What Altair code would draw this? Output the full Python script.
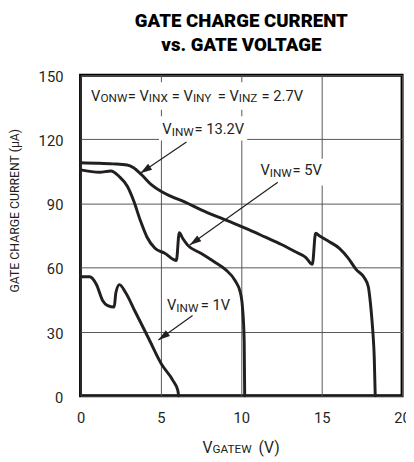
import math
import altair as alt
import pandas as pd

# ---------------- data ----------------
# V_INW = 13.2V
v13_x = [0, 1.0, 2.0, 2.9, 3.3, 3.8, 4.4, 5.0, 5.6, 6.5, 7.5, 8.5, 9.5, 10.5, 11.5,
         12.5, 13.3, 14.0, 14.42, 14.62, 14.9, 15.5, 16.1, 16.65, 17.15, 17.65, 17.9,
         18.0, 18.12, 18.2, 18.27, 18.33]
v13_y = [109, 108.8, 108.5, 108, 106.7, 103.4, 98.8, 95.7, 93.4, 90.6, 87, 83.8, 80.8,
         77.6, 74.2, 70.8, 67.6, 64.8, 61.5, 76, 74.6, 72, 69, 64.4, 59, 55.2, 51, 45.5,
         36, 28, 17.8, 0]
# V_INW = 5V
v5_x = [0, 1.18, 1.89, 2.4, 2.91, 3.31, 3.72, 4.13, 4.63, 5.24, 5.96, 6.14, 6.36, 6.66,
        7.48, 8.29, 9.02, 9.63, 9.94, 10.08, 10.18, 10.21]
v5_y = [105.7, 104.6, 105.2, 102.6, 98.0, 91.1, 82.0, 74.3, 69.0, 66.7, 63.3, 76.3, 73.6,
        70.5, 66.7, 62.8, 59.0, 53.7, 48.3, 40.7, 25.4, 0]
# V_INW = 1V
v1_x = [0, 0.57, 0.98, 1.38, 1.69, 2.09, 2.2, 2.42, 2.8, 3.41, 4.23, 5.04, 5.75, 6.05, 6.1]
v1_y = [55.7, 55.7, 52.2, 44.5, 42.2, 41.5, 48.3, 52.0, 48.3, 39.2, 26.9, 14.7, 7.1, 2.5, 0]

x_ticks = [0, 5, 10, 15, 20]
y_ticks = [0, 30, 60, 90, 120, 150]

title_lines = ["GATE CHARGE CURRENT", "vs. GATE VOLTAGE"]
y_title = "GATE CHARGE CURRENT (μA)"

# annotation arrows: start (x0,y0) -> tip (x1,y1), data units
arrow_x0 = [6.59, 12.27, 6.97]
arrow_y0 = [118.7, 99.9, 37.6]
arrow_x1 = [3.72, 6.79, 4.84]
arrow_y1 = [104.1, 70.5, 26.1]

# white boxes behind labels (data units)
box_x0 = [0.37, 4.88, 10.98]
box_x1 = [14.09, 10.37, 15.3]
box_y0 = [133.8, 119.4, 98.4]
box_y1 = [146.7, 130.8, 110.9]

# label segments: text, x, baseline y, font size, alignment
seg_text = ["V", "ONW", "= V", "INX", "= V", "INY", "= V", "INZ", "= 2.7V",
            "V", "INW", "= 13.2V",
            "V", "INW", "= 5V",
            "V", "INW", "= 1V",
            "V", "GATEW", "(V)"]
seg_x = [1.24, 1.24, 4.25, 4.25, 6.99, 6.99, 9.84, 9.84, 11.26,
         5.67, 5.67, 7.09,
         11.77, 11.77, 13.19,
         5.96, 5.96, 7.48,
         8.21, 8.21, 11.07]
seg_y = [138.1, 137.3, 138.1, 137.3, 138.1, 137.3, 138.1, 137.3, 138.1,
         122.5, 121.7, 122.5,
         103.1, 102.2, 103.1,
         39.9, 39.0, 39.9,
         -26.6, -27.0, -26.6]
seg_size = [15, 12, 15, 12, 15, 12, 15, 12, 15,
            15, 12, 15,
            15, 12, 15,
            15, 12, 15,
            16, 12, 16]
seg_align = ["right", "left", "right", "left", "right", "left", "right", "left", "left",
             "right", "left", "left",
             "right", "left", "left",
             "right", "left", "left",
             "right", "left", "left"]

# ---------------- layout / style ----------------
FONT = "Roboto"
INK = "#231f20"
W, H = 328, 327
PX_PER_V = W / 20
PX_PER_I = H / 150

curves = pd.concat([
    pd.DataFrame({"v": v13_x, "i": v13_y, "s": "13.2V"}),
    pd.DataFrame({"v": v5_x, "i": v5_y, "s": "5V"}),
    pd.DataFrame({"v": v1_x, "i": v1_y, "s": "1V"}),
], ignore_index=True)

arrows = pd.DataFrame({"x0": arrow_x0, "y0": arrow_y0, "x1": arrow_x1, "y1": arrow_y1})
arrows["ang"] = [
    (math.degrees(math.atan2((b - a) * PX_PER_V, (d - c) * PX_PER_I)) % 360)
    for a, b, c, d in zip(arrows.x0, arrows.x1, arrows.y0, arrows.y1)
]
boxes = pd.DataFrame({"x0": box_x0, "x1": box_x1, "y0": box_y0, "y1": box_y1})
segs = pd.DataFrame({"t": seg_text, "x": seg_x, "y": seg_y, "fs": seg_size, "al": seg_align})

xs = alt.Scale(domain=[0, 20], nice=False, zero=False)
ys = alt.Scale(domain=[0, 150], nice=False, zero=False)
xax = alt.Axis(values=x_ticks, title=None, labelPadding=15, labelFlush=False,
               labelOverlap=False)
yax = alt.Axis(values=y_ticks, title=None, labelPadding=18, labelOffset=1.5)


def X(f):
    return alt.X(f, type="quantitative", scale=xs, axis=xax)


def Y(f):
    return alt.Y(f, type="quantitative", scale=ys, axis=yax)


rects = alt.Chart(boxes).mark_rect(fill="white", stroke=None).encode(
    x=X("x0"), x2="x1", y=Y("y0"), y2="y1")

lines = alt.Chart(curves).mark_line(
    color=INK, strokeWidth=3, interpolate="monotone", strokeJoin="round", strokeCap="round"
).encode(x=X("v"), y=Y("i"), detail="s:N")

rules = alt.Chart(arrows).mark_rule(color=INK, strokeWidth=1.2).encode(
    x=X("x0"), y=Y("y0"), x2="x1", y2="y1")

heads = alt.Chart(arrows).mark_point(
    shape="M0,0L-0.6,2L0.6,2Z", filled=True, size=144, color=INK, opacity=1, strokeWidth=0
).encode(x=X("x1"), y=Y("y1"), angle=alt.Angle("ang:Q", scale=None))

texts = []
for al in ["left", "right"]:
    texts.append(
        alt.Chart(segs[segs.al == al]).mark_text(
            align=al, baseline="alphabetic", font=FONT, color=INK
        ).encode(x=X("x"), y=Y("y"), text="t:N", size=alt.Size("fs:Q", scale=None))
    )

ytitle = alt.Chart(pd.DataFrame({"t": [y_title], "x": [-4.1], "y": [86.6]})).mark_text(
    angle=270, align="center", baseline="middle", font=FONT, fontSize=12.5, color=INK
).encode(x=X("x"), y=Y("y"), text="t:N")

chart = alt.layer(rects, lines, rules, heads, *texts, ytitle).properties(
    width=W, height=H,
    title=alt.TitleParams(
        text=title_lines, anchor="middle", frame="group", font=FONT, fontSize=19,
        fontWeight=900, color="black", offset=15, lineHeight=25
    ),
    padding={"left": 74, "top": 64, "right": 4, "bottom": 62},
    autosize=alt.AutoSizeParams(type="none"),
).configure_view(
    stroke="black", strokeWidth=3
).configure_axis(
    domain=False, ticks=False, grid=True, gridColor="#555", gridWidth=1,
    labelFont=FONT, labelFontSize=15, labelColor=INK
)

chart.save("out.html", embed_options={"renderer": "svg", "actions": False})
